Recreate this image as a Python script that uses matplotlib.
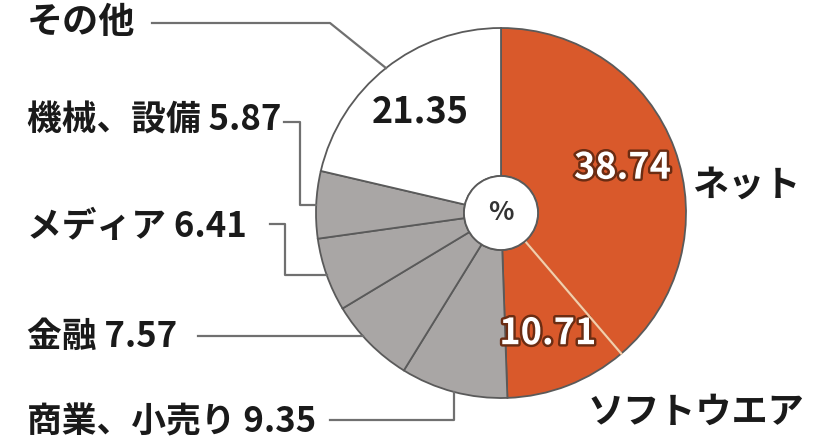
import numpy as np
import matplotlib
matplotlib.use("Agg")
import matplotlib.pyplot as plt
import matplotlib.patheffects as pe
from matplotlib.patches import Circle

plt.rcParams['font.family'] = ['Noto Sans CJK JP', 'DejaVu Sans']

# data (clockwise from 12 o'clock)
labels = ["ネット", "ソフトウエア", "商業、小売り", "金融", "メディア", "機械、設備", "その他"]
values = [38.74, 10.71, 9.35, 7.57, 6.41, 5.87, 21.35]
colors = ["#D9592B", "#D9592B", "#A9A6A5", "#A9A6A5", "#A9A6A5", "#A9A6A5", "#FFFFFF"]

W, H = 818, 442
cx, cy = 501, 229
R = 185
r_hole = 37

fig = plt.figure(figsize=(W / 100, H / 100), dpi=100)
ax = fig.add_axes([0, 0, 1, 1])

wedges, _ = ax.pie(values, colors=colors, startangle=90, counterclock=False,
                   radius=R, center=(cx, cy),
                   wedgeprops=dict(edgecolor="#5a5a5a", linewidth=1.3, width=R - r_hole))
ax.set_xlim(0, W)
ax.set_ylim(0, H)
ax.set_aspect("equal")
ax.axis("off")

# angles clockwise from top
bounds = np.concatenate([[0], np.cumsum(values)]) / sum(values) * 360
mids = (bounds[:-1] + bounds[1:]) / 2


def pt(theta, r):
    t = np.radians(theta)
    return cx + r * np.sin(t), cy + r * np.cos(t)


# pale line between the two orange slices
x0, y0 = pt(bounds[1], r_hole)
x1, y1 = pt(bounds[1], R)
ax.plot([x0, x1], [y0, y1], color="#F7CDA8", lw=1.6, zorder=5)

# centre hole
ax.add_patch(Circle((cx, cy), r_hole, facecolor="white", edgecolor="#5a5a5a", lw=1.3, zorder=6))
ax.text(cx, cy, "%", ha="center", va="center", fontsize=19, fontweight="bold", color="#333333", zorder=7)

fs = 25
vs = 26
txt = "#1a1a1a"
# values inside the pie
val_txt = {0: "38.74", 1: "10.71", 6: "21.35"}
for i, s in val_txt.items():
    x, y = pt(mids[i], R * 0.70)
    if i == 6:
        ax.text(x, y, s, ha="center", va="center", fontsize=vs, fontweight="bold", color=txt)
    else:
        ax.text(x, y, s, ha="center", va="center", fontsize=vs, fontweight="bold", color="white",
                path_effects=[pe.withStroke(linewidth=3.5, foreground="#6b2c12")])

# right labels
ax.text(692, 257, labels[0], ha="left", va="center", fontsize=fs + 1, fontweight="bold", color=txt)
ax.text(588, 30, labels[1], ha="left", va="center", fontsize=fs + 1, fontweight="bold", color=txt)

lc = "#707070"
lw = 1.6

# その他
ax.text(27, 420, labels[6], ha="left", va="center", fontsize=fs + 1, fontweight="bold", color=txt)
ex, ey = pt(mids[6], R)
ax.plot([152, 330, ex], [419, 419, ey], color=lc, lw=lw)

# 機械、設備
ax.text(27, 322, f"{labels[5]} {values[5]}", ha="left", va="center", fontsize=fs, fontweight="bold", color=txt)
ex, ey = pt(mids[5], R)
ax.plot([284, 300, 300, ex], [320, 320, ey, ey], color=lc, lw=lw)

# メディア
ax.text(27, 216, f"{labels[4]} {values[4]}", ha="left", va="center", fontsize=fs, fontweight="bold", color=txt)
ex, ey = pt(mids[4], R)
ax.plot([270, 285, 285, ex], [218, 218, ey, ey], color=lc, lw=lw)

# 金融
ax.text(27, 106, f"{labels[3]} {values[3]}", ha="left", va="center", fontsize=fs, fontweight="bold", color=txt)
ey = 106
ex = cx - np.sqrt(R ** 2 - (cy - ey) ** 2)
ax.plot([198, ex], [ey, ey], color=lc, lw=lw)

# 商業、小売り
ax.text(27, 20, f"{labels[2]} {values[2]}", ha="left", va="center", fontsize=fs, fontweight="bold", color=txt)
ex, ey = pt(mids[2], R)
ax.plot([330, ex, ex], [22, 22, ey], color=lc, lw=lw)

fig.savefig("out.png", dpi=100, facecolor="white")
